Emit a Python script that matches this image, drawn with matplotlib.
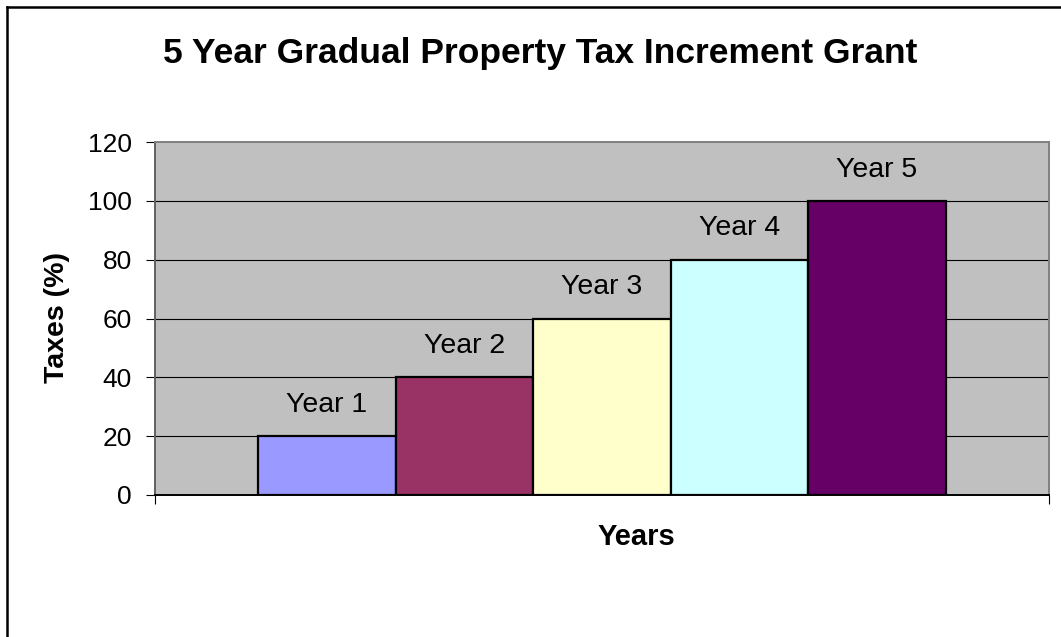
import matplotlib.pyplot as plt
from matplotlib.lines import Line2D

plt.rcParams['font.family'] = ['Liberation Sans', 'DejaVu Sans']

# data
years = ['Year 1', 'Year 2', 'Year 3', 'Year 4', 'Year 5']
taxes = [20, 40, 60, 80, 100]
colors = ['#9999FF', '#993366', '#FFFFCC', '#CCFFFF', '#660066']
yticks = [0, 20, 40, 60, 80, 100, 120]

W, H = 1061, 637
fig = plt.figure(figsize=(W / 100, H / 100), dpi=100)
ax = fig.add_axes([155 / W, 1 - 495 / H, (1049 - 155) / W, (495 - 142) / H])
ax.set_facecolor('#C0C0C0')

# single category, 5 series, gap width 150%
gap = 1.5
xpos = [gap / 2 + i + 0.5 for i in range(len(years))]
ax.set_xlim(0, len(years) + gap)
ax.set_ylim(0, 120)

for y in yticks[1:-1]:
    ax.axhline(y, color='#000000', lw=0.8, zorder=1)

ax.bar(xpos, taxes, width=1.0, color=colors, edgecolor='black', linewidth=1.6, zorder=2)

for x, v, name in zip(xpos, taxes, years):
    ax.annotate(name, (x, v), xytext=(0, 22.5), textcoords='offset points',
                ha='center', va='center', fontsize=20.5, zorder=3)

ax.set_yticks(yticks)
ax.tick_params(axis='y', labelsize=19, length=6.5, width=0.8, pad=10, colors='black')
ax.set_xticks([0, len(years) + gap])
ax.set_xticklabels([])
ax.tick_params(axis='x', length=6.5, width=0.8, direction='out')

ax.spines['top'].set_color('#808080')
ax.spines['right'].set_color('#808080')
ax.spines['left'].set_color('#606060')
ax.spines['bottom'].set_color('#000000')
for s in ax.spines.values():
    s.set_linewidth(1.4)

fig.text(540 / W, 1 - 53 / H, '5 Year Gradual Property Tax Increment Grant',
         ha='center', va='center', fontsize=25.5, fontweight='bold')
fig.text(636 / W, 1 - 537 / H, 'Years', ha='center', va='center',
         fontsize=21, fontweight='bold')
fig.text(57 / W, 1 - 318 / H, 'Taxes (%)', ha='center', va='center',
         fontsize=20.5, fontweight='bold', rotation=90)

# outer chart frame (right and bottom edges are cropped off)
fig.add_artist(Line2D([7 / W, 7 / W], [0, 1 - 7 / H], color='black', lw=1.8))
fig.add_artist(Line2D([7 / W, 1], [1 - 7 / H, 1 - 7 / H], color='black', lw=1.8))

fig.savefig('out.png', dpi=100)
